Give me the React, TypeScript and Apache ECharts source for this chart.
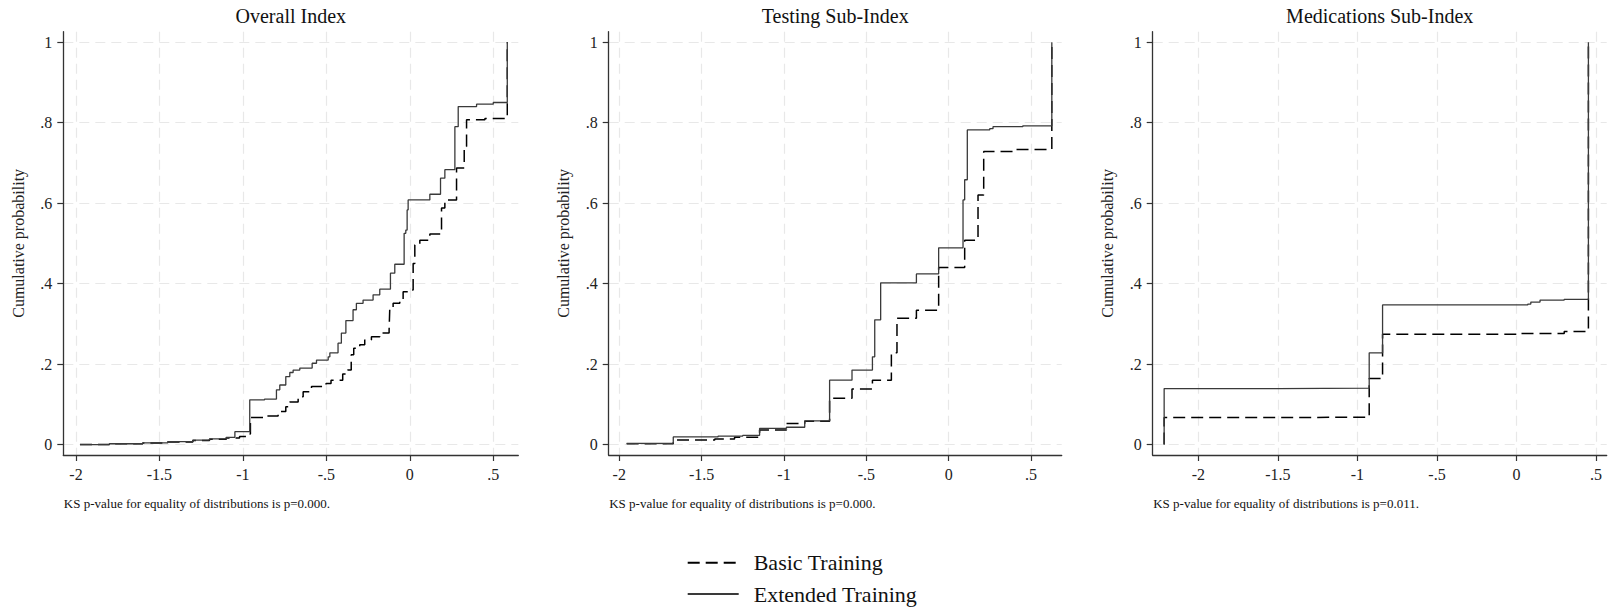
import React, { useEffect, useRef } from "react";
import * as echarts from "echarts";

// ---------- data ----------
const panelTitles = ["Overall Index", "Testing Sub-Index", "Medications Sub-Index"];
const seriesNames = ["Basic Training", "Extended Training"];
const xTickValues = [-2, -1.5, -1, -0.5, 0, 0.5];
const yTickValues = [0, 0.2, 0.4, 0.6, 0.8, 1];
const yAxisTitle = "Cumulative probability";
const ksNotes = [
  "KS p-value for equality of distributions is p=0.000.",
  "KS p-value for equality of distributions is p=0.000.",
  "KS p-value for equality of distributions is p=0.011.",
];

// [x, cumulative probability] — value holds from x until next point
const overallBasic = [
  [-1.976, 0], [-1.8, 0.002], [-1.6, 0.004], [-1.45, 0.006], [-1.3, 0.01], [-1.2, 0.013],
  [-1.1, 0.016], [-1.02, 0.02], [-0.979, 0.026], [-0.955, 0.067], [-0.879, 0.071],
  [-0.789, 0.082], [-0.743, 0.094], [-0.719, 0.106], [-0.669, 0.119], [-0.639, 0.131],
  [-0.589, 0.144], [-0.502, 0.152], [-0.472, 0.16], [-0.402, 0.175], [-0.372, 0.185],
  [-0.351, 0.223], [-0.336, 0.239], [-0.3, 0.248], [-0.27, 0.26], [-0.23, 0.268],
  [-0.18, 0.277], [-0.124, 0.285], [-0.12, 0.339], [-0.1, 0.351], [-0.06, 0.359],
  [-0.04, 0.38], [0.01, 0.384], [0.02, 0.45], [0.03, 0.496], [0.06, 0.508], [0.12, 0.523],
  [0.19, 0.588], [0.21, 0.608], [0.28, 0.687], [0.326, 0.741], [0.34, 0.807],
  [0.45, 0.81], [0.584, 1.0],
];
const overallExtended = [
  [-1.976, 0], [-1.8, 0.002], [-1.6, 0.004], [-1.45, 0.007], [-1.3, 0.011], [-1.2, 0.014],
  [-1.1, 0.018], [-1.048, 0.032], [-0.959, 0.111], [-0.87, 0.113], [-0.799, 0.136],
  [-0.779, 0.148], [-0.743, 0.169], [-0.719, 0.179], [-0.699, 0.185], [-0.659, 0.19],
  [-0.585, 0.202], [-0.559, 0.21], [-0.489, 0.218], [-0.479, 0.228], [-0.43, 0.252],
  [-0.41, 0.277], [-0.383, 0.308], [-0.34, 0.335], [-0.32, 0.351], [-0.28, 0.359],
  [-0.22, 0.372], [-0.18, 0.386], [-0.116, 0.426], [-0.09, 0.448], [-0.034, 0.525],
  [-0.024, 0.533], [-0.016, 0.583], [-0.01, 0.608], [0.12, 0.622], [0.184, 0.662],
  [0.21, 0.683], [0.27, 0.79], [0.29, 0.84], [0.4, 0.846], [0.5, 0.85], [0.584, 1.0],
];
const testingBasic = [
  [-1.955, 0.002], [-1.672, 0.011], [-1.42, 0.014], [-1.3, 0.018], [-1.148, 0.036],
  [-0.985, 0.052], [-0.874, 0.058], [-0.723, 0.115], [-0.587, 0.138], [-0.463, 0.16],
  [-0.348, 0.228], [-0.314, 0.314], [-0.196, 0.334], [-0.061, 0.44], [0.097, 0.508],
  [0.178, 0.62], [0.2125, 0.728], [0.4, 0.733], [0.626, 1.0],
];
const testingExtended = [
  [-1.955, 0.003], [-1.672, 0.019], [-1.4, 0.021], [-1.25, 0.023], [-1.148, 0.04],
  [-0.985, 0.043], [-0.874, 0.059], [-0.723, 0.16], [-0.587, 0.185], [-0.463, 0.218],
  [-0.449, 0.31], [-0.413, 0.402], [-0.196, 0.424], [-0.061, 0.489], [0.087, 0.608],
  [0.097, 0.658], [0.113, 0.782], [0.249, 0.785], [0.269, 0.79], [0.45, 0.792], [0.626, 1.0],
];
const medsBasic = [
  [-2.215, 0], [-2.215, 0.067], [-1.5, 0.068], [-0.926, 0.164], [-0.842, 0.274],
  [0.0, 0.276], [0.3, 0.281], [0.452, 1.0],
];
const medsExtended = [
  [-2.215, 0], [-2.215, 0.139], [-1.5, 0.14], [-0.926, 0.228], [-0.842, 0.347],
  [0.071, 0.349], [0.09, 0.354], [0.148, 0.359], [0.3, 0.361], [0.452, 1.0],
];

// ---------- layout ----------
const FONT = "'Liberation Serif', 'Times New Roman', serif";
const GRID_TOP = 31.7;
const GRID_HEIGHT = 423.3;
const panels = [
  { basic: overallBasic, ext: overallExtended, left: 63.3, width: 455, xMin: -2.076, xMax: 0.65 },
  { basic: testingBasic, ext: testingExtended, left: 608.7, width: 453, xMin: -2.064, xMax: 0.686 },
  { basic: medsBasic, ext: medsExtended, left: 1152.7, width: 454, xMin: -2.287, xMax: 0.567 },
];

const fmt = (v: number) => {
  if (v === 0) return "0";
  return String(v).replace("0.", ".");
};

const axisColor = "#333";
const gridLine = { color: "#e8e8e8", width: 1.2, type: [10, 6] as any };

export default function App() {
  const ref = useRef<HTMLDivElement>(null);
  useEffect(() => {
    document.body.style.margin = "0";
    if (!ref.current) return;
    const chart = echarts.init(ref.current, null, { renderer: "svg" });

    const graphics: any[] = [];
    panels.forEach((p, i) => {
      graphics.push({
        type: "text",
        x: p.left + p.width / 2,
        y: 16,
        style: {
          text: panelTitles[i],
          font: `20px ${FONT}`,
          fill: "#111",
          align: "center",
          verticalAlign: "middle",
        },
      });
      graphics.push({
        type: "text",
        x: p.left + 0.5,
        y: 503,
        style: {
          text: ksNotes[i],
          font: `13px ${FONT}`,
          fill: "#111",
          align: "left",
          verticalAlign: "middle",
        },
      });
    });

    const series: any[] = [];
    panels.forEach((p, i) => {
      series.push({
        type: "line",
        name: seriesNames[0],
        xAxisIndex: i,
        yAxisIndex: i,
        data: p.basic,
        step: "end",
        symbol: "none",
        silent: true,
        itemStyle: { color: "#000" },
        lineStyle: { color: "#000", width: 1.5, type: [12, 6] },
      });
      series.push({
        type: "line",
        name: seriesNames[1],
        xAxisIndex: i,
        yAxisIndex: i,
        data: p.ext,
        step: "end",
        symbol: "none",
        silent: true,
        itemStyle: { color: "#3a3a3a" },
        lineStyle: { color: "#3a3a3a", width: 1.3, type: "solid" },
      });
    });

    const option: any = {
      animation: false,
      backgroundColor: "#fff",
      grid: panels.map((p) => ({
        left: p.left,
        top: GRID_TOP,
        width: p.width,
        height: GRID_HEIGHT,
        containLabel: false,
        outerBoundsMode: "none",
      })),
      xAxis: panels.map((p, i) => ({
        type: "value",
        gridIndex: i,
        min: p.xMin,
        max: p.xMax,
        axisLine: { show: true, onZero: false, lineStyle: { color: axisColor, width: 1.3 } },
        axisTick: { show: true, customValues: xTickValues, length: 6, lineStyle: { color: axisColor, width: 1.2 } },
        axisLabel: {
          customValues: xTickValues,
          formatter: fmt,
          margin: 11,
          fontSize: 16,
          fontFamily: FONT,
          color: "#222",
        },
        splitLine: { show: true, lineStyle: gridLine },
      })),
      yAxis: panels.map((p, i) => ({
        type: "value",
        gridIndex: i,
        min: -0.026,
        max: 1.026,
        name: yAxisTitle,
        nameLocation: "middle",
        nameGap: 37,
        nameTextStyle: { fontSize: 16, fontFamily: FONT, color: "#222" },
        axisLine: { show: true, onZero: false, lineStyle: { color: axisColor, width: 1.3 } },
        axisTick: { show: true, customValues: yTickValues, length: 6, lineStyle: { color: axisColor, width: 1.2 } },
        axisLabel: {
          customValues: yTickValues,
          formatter: fmt,
          margin: 11,
          fontSize: 16,
          fontFamily: FONT,
          color: "#222",
        },
        splitLine: { show: true, lineStyle: gridLine },
      })),
      legend: {
        orient: "vertical",
        left: 686.7,
        top: 551.7,
        padding: 0,
        itemWidth: 51,
        itemHeight: 14,
        itemGap: 9.3,
        selectedMode: false,
        data: seriesNames,
        itemStyle: { opacity: 0, borderWidth: 0 },
        textStyle: { fontFamily: FONT, fontSize: 22, color: "#111", padding: [0, 0, 0, 10] },
      },
      graphic: graphics,
      series,
    };
    chart.setOption(option);
    return () => chart.dispose();
  }, []);
  return <div ref={ref} style={{ width: 1614, height: 611 }} />;
}
